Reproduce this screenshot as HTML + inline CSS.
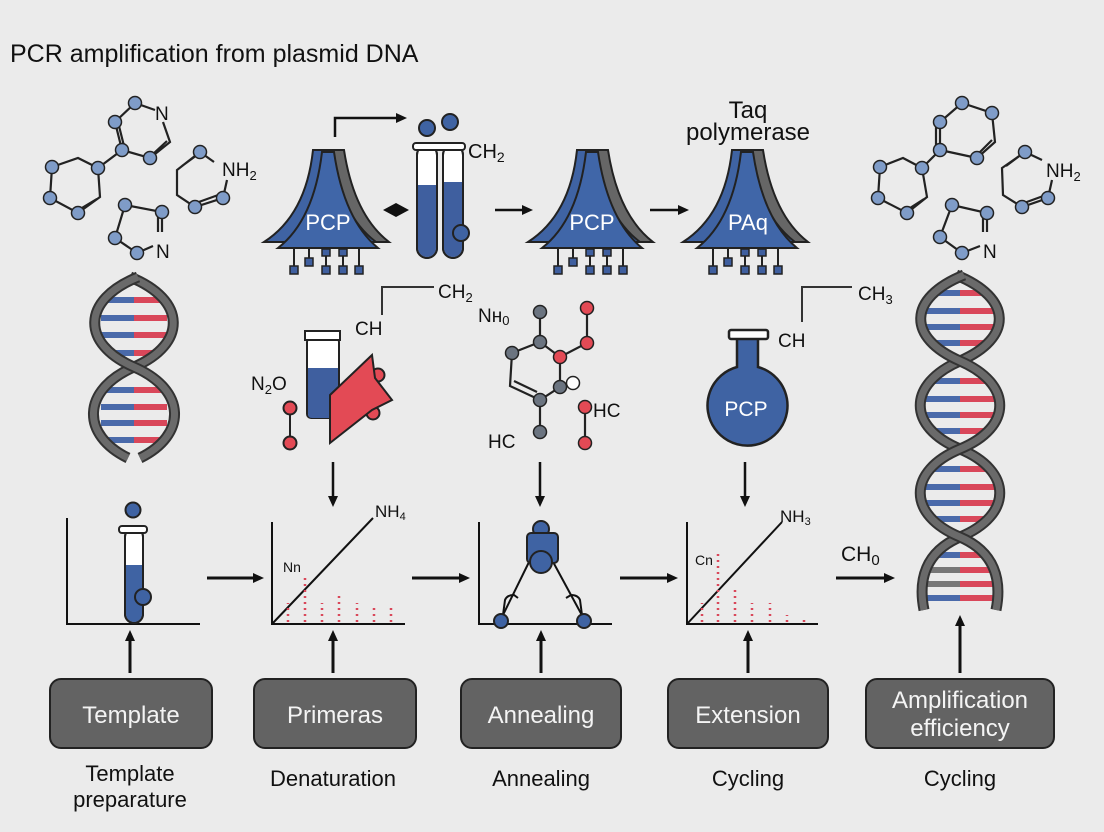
<!DOCTYPE html>
<html><head><meta charset="utf-8"><style>
html,body{margin:0;padding:0;background:#ebebeb;}
svg{display:block;font-family:"Liberation Sans",sans-serif;}
</style></head><body>
<svg width="1104" height="832" viewBox="0 0 1104 832" xmlns="http://www.w3.org/2000/svg">
<defs>
<marker id="ah" markerWidth="11" markerHeight="10" refX="8" refY="5" orient="auto" markerUnits="userSpaceOnUse"><path d="M0,0 L11,5 L0,10 Z" fill="#111"/></marker>
<g id="trap">
<path d="M3,150 L18,150 Q28,215 63,242 L30,242 Z" fill="#666" stroke="#222" stroke-width="2"/>
<path d="M-13,150 L5,150 Q14,215 50,242 L-62,242 Q-20,215 -13,150 Z" fill="#3f63a3" stroke="#222" stroke-width="2"/>
<path d="M-4,152 L8,152 Q18,220 52,248 L-48,248 Q-12,220 -4,152 Z" fill="#4066a8" stroke="#222" stroke-width="2"/>
<g stroke="#222" stroke-width="2"><path d="M-32,248V268 M-17,248V260 M0,248V268 M17,248V268 M33,248V268"/></g>
<g fill="#3f5f9f" stroke="#222" stroke-width="1.5"><rect x="-36" y="266" width="8" height="8"/><rect x="-21" y="258" width="8" height="8"/><rect x="-4" y="249" width="8" height="7"/><rect x="-4" y="266" width="8" height="8"/><rect x="13" y="249" width="8" height="7"/><rect x="13" y="266" width="8" height="8"/><rect x="29" y="266" width="8" height="8"/></g>
</g>
</defs>
<rect width="1104" height="832" fill="#ebebeb"/>
<text x="10" y="62" font-size="25" fill="#111">PCR amplification from plasmid DNA</text>

<!-- left helix -->
<g stroke-width="6" fill="none">
<path stroke="#4a6aaa" d="M106,300H134 M101,318H134 M101,335H134 M106,353H134 M106,390H134 M101,407H134 M101,423H134 M106,440H134"/>
<path stroke="#d9475a" d="M134,300H162 M134,318H167 M134,335H167 M134,353H162 M134,390H162 M134,407H167 M134,423H167 M134,440H162"/>
</g>
<g fill="none">
<path id="lh1" d="M130,277 C187,300 187,344 134,367 C81,390 81,435 128,458" stroke="#333" stroke-width="11"/>
<path d="M130,277 C187,300 187,344 134,367 C81,390 81,435 128,458" stroke="#6a6a6a" stroke-width="7"/>
<path d="M138,277 C81,300 81,344 134,367 C187,390 187,435 140,458" stroke="#333" stroke-width="11"/>
<path d="M138,277 C81,300 81,344 134,367 C187,390 187,435 140,458" stroke="#6a6a6a" stroke-width="7"/>
</g>
<!-- right helix -->
<g stroke-width="6" fill="none">
<path stroke="#4a6aaa" d="M930,293H960 M925,311H960 M925,327H960 M932,343H960
M930,381H960 M925,399H960 M925,415H960 M932,431H960
M930,469H960 M925,487H960 M925,503H960 M932,519H960
M932,555H960 M927,570H960 M925,584H960 M925,598H960"/>
<path stroke="#d9475a" d="M960,293H990 M960,311H995 M960,327H995 M960,343H988
M960,381H990 M960,399H995 M960,415H995 M960,431H988
M960,469H990 M960,487H995 M960,503H995 M960,519H988
M960,555H988 M960,570H993 M960,584H995 M960,598H995"/>
<path stroke="#777" d="M927,570H960 M925,584H960"/>
</g>
<g fill="none">
<path d="M956,275 C1013,298 1013,338 960,361 C907,384 907,427 960,449 C1013,471 1013,515 960,537 C925,552 918,580 924,610" stroke="#333" stroke-width="11"/>
<path d="M956,275 C1013,298 1013,338 960,361 C907,384 907,427 960,449 C1013,471 1013,515 960,537 C925,552 918,580 924,610" stroke="#6a6a6a" stroke-width="7"/>
<path d="M964,275 C907,298 907,338 960,361 C1013,384 1013,427 960,449 C907,471 907,515 960,537 C995,552 1002,580 996,610" stroke="#333" stroke-width="11"/>
<path d="M964,275 C907,298 907,338 960,361 C1013,384 1013,427 960,449 C907,471 907,515 960,537 C995,552 1002,580 996,610" stroke="#6a6a6a" stroke-width="7"/>
</g>

<!-- molecules left -->
<g stroke="#222" stroke-width="2.2" fill="none">
<path d="M52,167 L78,158 L98,168 L100,197 L78,213 L50,198 Z M82,208 L97,199"/>
<path d="M98,168 L122,150 L115,122 L135,103 L155,110 M163,122 L170,142 L150,158 L122,150 M119,126 L124,146 M153,154 L167,141"/>
<path d="M200,152 L177,170 L177,195 L195,207 L223,198 L227,180 M200,152 L214,162 M182,166 L197,155 M196,203 L221,194"/>
<path d="M125,205 L162,212 L162,232 M137,253 L115,238 L125,205 M137,253 L153,246 M158,214 L158,232"/>
</g>
<!-- molecules right -->
<g stroke="#222" stroke-width="2.2" fill="none">
<path d="M880,167 L903,158 L922,168 L927,197 L907,213 L878,198 Z M910,208 L924,199"/>
<path d="M922,168 L940,150 L940,122 L962,103 L992,113 L995,142 L977,158 L940,150 M936,126 L936,148 M980,152 L992,140"/>
<path d="M1025,152 L1002,168 L1003,195 L1022,207 L1048,198 L1052,180 M1025,152 L1042,160 M1006,166 L1022,154 M1024,203 L1046,195"/>
<path d="M952,205 L987,213 L987,232 M962,253 L940,237 L952,205 M962,253 L980,246 M983,215 L983,232"/>
</g>
<g fill="#7f9cc8" stroke="#222" stroke-width="1.5">
<circle cx="52" cy="167" r="6.5"/><circle cx="98" cy="168" r="6.5"/><circle cx="50" cy="198" r="6.5"/><circle cx="78" cy="213" r="6.5"/>
<circle cx="122" cy="150" r="6.5"/><circle cx="115" cy="122" r="6.5"/><circle cx="135" cy="103" r="6.5"/><circle cx="150" cy="158" r="6.5"/>
<circle cx="200" cy="152" r="6.5"/><circle cx="195" cy="207" r="6.5"/><circle cx="223" cy="198" r="6.5"/>
<circle cx="125" cy="205" r="6.5"/><circle cx="162" cy="212" r="6.5"/><circle cx="137" cy="253" r="6.5"/><circle cx="115" cy="238" r="6.5"/>
<circle cx="880" cy="167" r="6.5"/><circle cx="922" cy="168" r="6.5"/><circle cx="878" cy="198" r="6.5"/><circle cx="907" cy="213" r="6.5"/>
<circle cx="940" cy="150" r="6.5"/><circle cx="940" cy="122" r="6.5"/><circle cx="962" cy="103" r="6.5"/><circle cx="992" cy="113" r="6.5"/><circle cx="977" cy="158" r="6.5"/>
<circle cx="1025" cy="152" r="6.5"/><circle cx="1022" cy="207" r="6.5"/><circle cx="1048" cy="198" r="6.5"/>
<circle cx="952" cy="205" r="6.5"/><circle cx="987" cy="213" r="6.5"/><circle cx="962" cy="253" r="6.5"/><circle cx="940" cy="237" r="6.5"/>
</g>
<g font-size="19" fill="#111">
<text x="155" y="120">N</text><text x="222" y="176">NH<tspan font-size="13" dy="4">2</tspan></text><text x="156" y="258">N</text>
<text x="1046" y="177">NH<tspan font-size="13" dy="4">2</tspan></text><text x="983" y="258">N</text>
</g>

<!-- trapezoids -->
<use href="#trap" x="326" y="0"/>
<use href="#trap" x="590" y="0"/>
<use href="#trap" x="745" y="0"/>
<g font-size="22" fill="#fff" text-anchor="middle">
<text x="328" y="230">PCP</text><text x="592" y="230">PCP</text><text x="748" y="230">PAq</text>
</g>

<!-- top arrows -->
<g stroke="#111" stroke-width="2.5" fill="none" marker-end="url(#ah)">
<path d="M335,137 L335,118 L404,118"/>
<path d="M495,210 L530,210"/>
<path d="M650,210 L686,210"/>
</g>
<path d="M383,210 L396,203 L409,210 L396,217 Z" fill="#111"/>
<g stroke="#222" stroke-width="2">
<rect x="417" y="145" width="20" height="113" rx="10" fill="#fff"/>
<path d="M418,185 H436 V248 A9,9 0 0 1 418,248 Z" fill="#3f5f9f" stroke="none"/>
<rect x="417" y="145" width="20" height="113" rx="10" fill="none"/>
<rect x="443" y="145" width="20" height="113" rx="10" fill="#fff"/>
<path d="M444,182 H462 V248 A9,9 0 0 1 444,248 Z" fill="#3f5f9f" stroke="none"/>
<rect x="443" y="145" width="20" height="113" rx="10" fill="none"/>
<rect x="413" y="143" width="52" height="7" rx="3" fill="#fff"/>
<circle cx="427" cy="128" r="8" fill="#3f63a3"/><circle cx="450" cy="122" r="8" fill="#3f63a3"/><circle cx="461" cy="233" r="8" fill="#3f63a3"/>
</g>
<text x="468" y="158" font-size="20" fill="#111">CH<tspan font-size="14" dy="4">2</tspan></text>
<text x="748" y="118" font-size="24" fill="#111" text-anchor="middle">Taq</text>
<text x="748" y="140" font-size="24" fill="#111" text-anchor="middle">polymerase</text>

<!-- middle row -->
<g stroke="#333" stroke-width="2" fill="none">
<path d="M382,315 L382,287 L434,287"/>
<path d="M802,322 L802,287 L852,287"/>
</g>
<g font-size="19" fill="#111">
<text x="438" y="298">CH<tspan font-size="13" dy="4">2</tspan></text>
<text x="355" y="335">CH</text>
<text x="251" y="390">N<tspan font-size="13" dy="4">2</tspan><tspan dy="-4">O</tspan></text>
<text x="478" y="322">Nн<tspan font-size="13" dy="3">0</tspan></text>
<text x="593" y="417">HC</text><text x="488" y="448">HC</text>
<text x="858" y="300">CH<tspan font-size="13" dy="4">3</tspan></text>
<text x="778" y="347">CH</text>
</g>
<g stroke="#222" stroke-width="2">
<circle cx="378" cy="375" r="6.5" fill="#e34a55"/><circle cx="373" cy="413" r="6.5" fill="#e34a55"/>
<rect x="307" y="338" width="32" height="80" rx="4" fill="#fff"/>
<path d="M308,368 H338 V414 Q338,418 334,418 H312 Q308,418 308,414 Z" fill="#3f5f9f" stroke="none"/>
<rect x="305" y="331" width="35" height="9" fill="#fff"/>
<path d="M330,395 L372,355 L375,378 L392,400 L372,410 L330,443 Z" fill="#e34a55"/>
<path d="M290,408 L290,443" fill="none"/>
<circle cx="290" cy="408" r="6.5" fill="#e34a55"/><circle cx="290" cy="443" r="6.5" fill="#e34a55"/>
</g>
<g stroke="#222" stroke-width="2.2" fill="none">
<path d="M540,342 L560,357 L560,387 L540,400 L510,386 L512,353 Z M514,381 L537,392"/>
<path d="M540,342 L540,312 M560,357 L587,343 L587,308 M560,387 L573,383 M540,400 L540,432 M585,407 L585,443"/>
</g>
<g stroke="#222" stroke-width="1.5">
<circle cx="540" cy="312" r="6.5" fill="#6b7480"/><circle cx="540" cy="342" r="6.5" fill="#6b7480"/><circle cx="560" cy="357" r="6.5" fill="#e34a55"/><circle cx="587" cy="308" r="6.5" fill="#e34a55"/><circle cx="587" cy="343" r="6.5" fill="#e34a55"/><circle cx="512" cy="353" r="6.5" fill="#6b7480"/><circle cx="573" cy="383" r="6.5" fill="#fff"/><circle cx="560" cy="387" r="6.5" fill="#6b7480"/><circle cx="540" cy="400" r="6.5" fill="#6b7480"/><circle cx="540" cy="432" r="6.5" fill="#6b7480"/><circle cx="585" cy="407" r="6.5" fill="#e34a55"/><circle cx="585" cy="443" r="6.5" fill="#e34a55"/>
</g>
<g stroke="#222" stroke-width="2.5">
<path d="M737,338 L758,338 L758,367 A40,40 0 1 1 737,367 Z" fill="#3f63a3"/>
<rect x="729" y="330" width="39" height="9" rx="2" fill="#fff"/>
</g>
<text x="746" y="416" font-size="21" fill="#fff" text-anchor="middle">PCP</text>
<g stroke="#111" stroke-width="2.5" marker-end="url(#ah)">
<path d="M333,462 L333,504"/><path d="M540,462 L540,504"/><path d="M745,462 L745,504"/>
</g>

<!-- charts -->
<g stroke="#111" stroke-width="2" fill="none">
<path d="M67,518 L67,624 L200,624"/>
<path d="M272,522 L272,624 L405,624"/>
<path d="M479,522 L479,624 L612,624"/>
<path d="M687,522 L687,624 L818,624"/>
<path d="M272,624 L373,518"/>
<path d="M687,624 L782,522"/>
<path d="M530,560 L501,619 M552,560 L584,619"/>
<path d="M503,615 L505,600 Q507,595 514,595 L518,598 M582,615 L580,600 Q578,595 571,595 L566,598"/>
</g>
<g stroke="#d9475a" stroke-width="2.5" stroke-dasharray="2,4">
<path d="M288,622 L288,603 M305,622 L305,575 M322,622 L322,603 M339,622 L339,595 M357,622 L357,603 M374,622 L374,608 M391,622 L391,608"/>
<path d="M702,622 L702,603 M718,622 L718,550 M735,622 L735,588 M752,622 L752,603 M770,622 L770,603 M787,622 L787,615 M804,622 L804,620"/>
</g>
<g stroke="#222" stroke-width="2">
<rect x="125" y="528" width="18" height="95" rx="9" fill="#fff"/>
<path d="M126,565 H142 V614 A8,8 0 0 1 126,614 Z" fill="#3f63a3" stroke="none"/>
<rect x="125" y="528" width="18" height="95" rx="9" fill="none"/>
<rect x="119" y="526" width="28" height="7" rx="3" fill="#fff"/>
<circle cx="133" cy="510" r="7.5" fill="#3f63a3"/><circle cx="143" cy="597" r="8" fill="#3f63a3"/>
<circle cx="541" cy="529" r="8" fill="#3f63a3"/>
<rect x="527" y="533" width="31" height="30" rx="4" fill="#3f63a3"/>
<circle cx="541" cy="562" r="11" fill="#3f63a3"/>
<circle cx="501" cy="621" r="7" fill="#3f63a3"/><circle cx="584" cy="621" r="7" fill="#3f63a3"/>
</g>
<g font-size="14" fill="#111">
<text x="283" y="572">Nn</text><text x="375" y="517" font-size="17">NH<tspan font-size="11" dy="3">4</tspan></text>
<text x="695" y="565">Cn</text><text x="780" y="522" font-size="17">NH<tspan font-size="11" dy="3">3</tspan></text>
<text x="841" y="561" font-size="21">CH<tspan font-size="15" dy="4">0</tspan></text>
</g>
<g stroke="#111" stroke-width="3" marker-end="url(#ah)">
<path d="M207,578 L261,578"/><path d="M412,578 L467,578"/><path d="M620,578 L675,578"/><path d="M836,578 L892,578"/>
<path d="M130,673 L130,633"/><path d="M333,673 L333,633"/><path d="M541,673 L541,633"/><path d="M748,673 L748,633"/><path d="M960,673 L960,618"/>
</g>

<!-- boxes -->
<g fill="#636363" stroke="#222" stroke-width="2">
<rect x="50" y="679" width="162" height="69" rx="11"/>
<rect x="254" y="679" width="162" height="69" rx="11"/>
<rect x="461" y="679" width="160" height="69" rx="11"/>
<rect x="668" y="679" width="160" height="69" rx="11"/>
<rect x="866" y="679" width="188" height="69" rx="11"/>
</g>
<g font-size="24" fill="#f4f4f4" text-anchor="middle">
<text x="131" y="723">Template</text>
<text x="335" y="723">Primeras</text>
<text x="541" y="723">Annealing</text>
<text x="748" y="723">Extension</text>
<text x="960" y="708">Amplification</text>
<text x="960" y="736">efficiency</text>
</g>
<g font-size="22" fill="#111" text-anchor="middle">
<text x="130" y="781">Template</text>
<text x="130" y="807">preparature</text>
<text x="333" y="786">Denaturation</text>
<text x="541" y="786">Annealing</text>
<text x="748" y="786">Cycling</text>
<text x="960" y="786">Cycling</text>
</g>
</svg>
</body></html>
